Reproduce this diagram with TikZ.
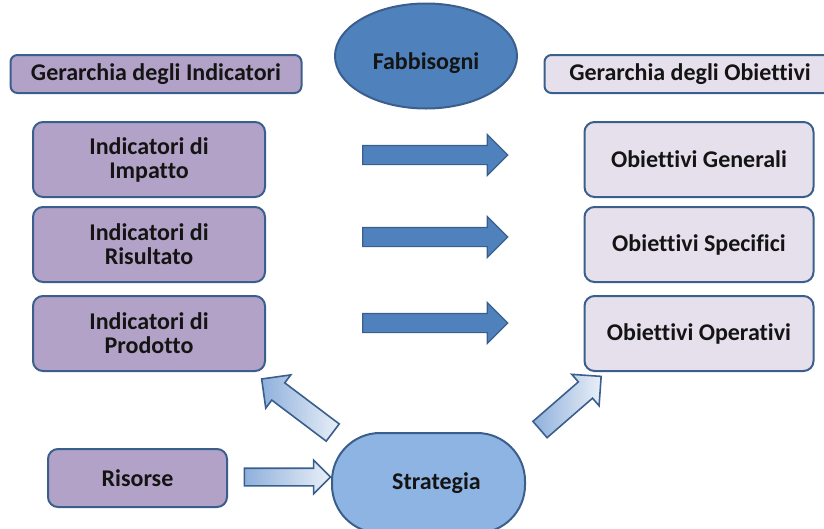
\documentclass[tikz,border=0pt]{standalone}
\usepackage{fontspec}
\setmainfont{Carlito}[Ligatures=NoCommon]
\usetikzlibrary{positioning, shapes.geometric, shapes.arrows}

\definecolor{edge}{HTML}{3B5F8C}
\definecolor{lilla}{HTML}{B3A2C7}
\definecolor{lavanda}{HTML}{E6E0EC}
\definecolor{blu}{HTML}{4F81BD}
\definecolor{celeste}{HTML}{8EB4E3}
\definecolor{azz}{HTML}{8FB0DC}
\definecolor{azzchiaro}{HTML}{E9EFF8}
\definecolor{txt}{HTML}{141414}

\begin{document}
\begin{tikzpicture}[
        x=1pt, y=-1pt,
        font=\fontsize{24}{24}\selectfont\bfseries,
        box/.style={draw=edge, line width=2pt, rounded corners=10pt, fill=#1, align=center, text=txt},
        box/.default=lilla,
        head/.style={box=#1, minimum width=291pt, minimum height=38pt, rounded corners=7pt},
        ind/.style={box=lilla, minimum width=232pt, minimum height=75pt},
        obj/.style={box=lavanda, minimum width=229pt, minimum height=75pt},
        fwd/.style={single arrow, draw=edge, line width=1.2pt, fill=blu, inner xsep=0pt, inner ysep=9pt,
            single arrow head extend=11pt, minimum height=145pt},
        hollow/.style={single arrow, draw=edge, line width=1.6pt, left color=azz, right color=azzchiaro,
            inner xsep=0pt, inner ysep=#1, single arrow head extend=#1},
    ]
    \useasboundingbox (0,0) rectangle (824,528);

    % ---- Headers + Fabbisogni ----
    \node[head=lilla] (hdrind) at (156,74) {Gerarchia degli Indicatori};
    \node[head=lavanda] (hdrobj) at (690,74) {Gerarchia degli Obiettivi};
    \node[ellipse, draw=edge, line width=2pt, fill=blu, minimum width=182pt, minimum height=105pt] (fab) at (426,56) {};
    \node[text=txt] (fabtxt) at (426,63) {Fabbisogni};

    % ---- Indicatori ----
    \node[ind] (imp) at (149,159.5) {Indicatori di\\Impatto};
    \node[ind, below=8pt of imp] (ris) {Indicatori di\\Risultato};
    \node[ind, below=12pt of ris] (prod) {Indicatori di\\Prodotto};

    % ---- Obiettivi ----
    \node[obj] (gen) at (699,159.5) {Obiettivi Generali};
    \node[obj, below=8pt of gen] (spe) {Obiettivi Specifici};
    \node[obj, below=12pt of spe] (ope) {Obiettivi Operativi};

    % ---- Frecce centrali ----
    \node[fwd] (a1) at (430.5,155) {};
    \node[fwd] (a2) at (430.5,237) {};
    \node[fwd] (a3) at (430.5,323) {};

    % ---- Risorse / Strategia ----
    \node[box=lilla, minimum width=179pt, minimum height=58pt] (res) at (137.5,478) {Risorse};
    \node[box=celeste, rounded corners=48pt, minimum width=193pt, minimum height=100pt,
        text width=175pt, align=center] (str) at (428.5,483) {\hspace*{16pt}Strategia};
    \node[hollow=8pt, minimum height=86pt] (ares) at (283,477) {};
    \node[hollow=10pt, minimum height=89pt, rotate=143] (aind) at (301.5,409) {};
    \node[hollow=10pt, minimum height=81pt, rotate=41] (aobj) at (566.5,406.5) {};
\end{tikzpicture}
\end{document}
